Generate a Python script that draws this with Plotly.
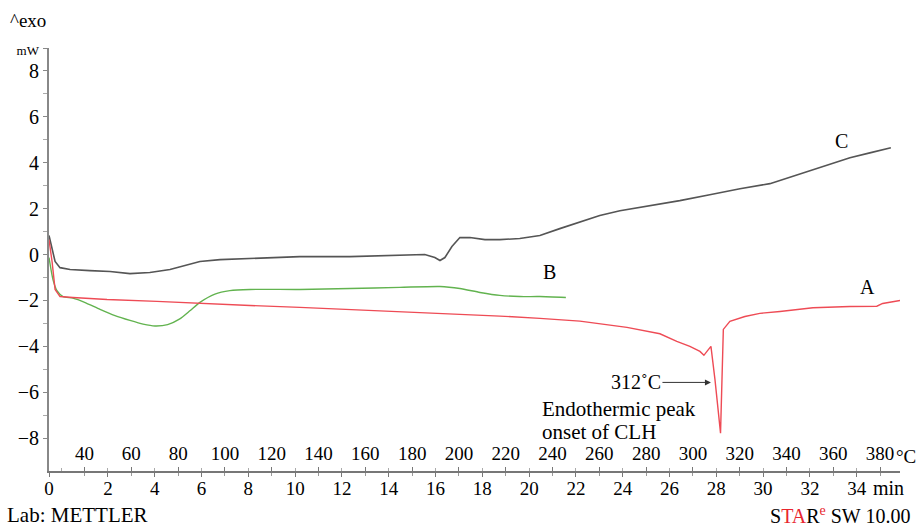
import plotly.graph_objects as go

# ---- data (time in min, heat flow in mW) ----
time_c = [-0.52, -0.39, -0.26, -0.05, 0.38, 1.23, 2.09, 2.94, 3.79, 4.65, 5.29, 5.93, 6.79, 8.07,
          10.2, 12.34, 14.47, 15.54, 15.97, 16.19, 16.40, 16.70, 17.04, 17.47, 18.11, 18.75, 19.60,
          20.46, 21.31, 22.17, 23.02, 23.88, 25.16, 26.44, 27.72, 29.01, 30.29, 31.57, 32.85,
          33.71, 34.56, 35.46]
flow_c = [0.83, 0.22, -0.30, -0.57, -0.65, -0.70, -0.74, -0.83, -0.78, -0.65, -0.48, -0.30, -0.22,
          -0.17, -0.09, -0.09, -0.04, 0.0, -0.13, -0.26, -0.13, 0.35, 0.74, 0.74, 0.65, 0.65, 0.70,
          0.83, 1.13, 1.43, 1.70, 1.91, 2.13, 2.35, 2.61, 2.87, 3.09, 3.52, 3.96, 4.22, 4.43, 4.65]

time_a = [-0.52, -0.39, -0.26, -0.05, 0.50, 1.96, 4.09, 5.93, 8.07, 10.2, 12.34, 14.47, 16.62,
          18.75, 20.46, 22.17, 24.18, 25.59, 26.31, 26.87, 27.30, 27.47, 27.60, 27.77, 27.94,
          28.18, 28.30, 28.58, 29.22, 29.86, 30.72, 32.13, 33.71, 34.86, 35.11, 35.50, 35.85]
flow_a = [0.65, -0.30, -1.52, -1.83, -1.87, -1.96, -2.04, -2.13, -2.22, -2.30, -2.39, -2.48, -2.57,
          -2.68, -2.78, -2.90, -3.17, -3.45, -3.78, -4.00, -4.22, -4.39, -4.22, -4.00, -5.43,
          -7.78, -3.26, -2.91, -2.70, -2.56, -2.48, -2.32, -2.26, -2.25, -2.13, -2.06, -2.00]

time_b = [-0.52, -0.35, -0.18, 0.08, 0.50, 1.00, 1.66, 2.30, 2.94, 3.50, 4.01, 4.55, 5.07, 5.50,
          5.93, 6.57, 7.21, 8.07, 10.2, 12.34, 14.47, 16.19, 17.04, 17.90, 18.75, 19.60, 20.46,
          21.57]
flow_b = [-0.13, -1.09, -1.57, -1.83, -1.90, -2.08, -2.39, -2.66, -2.87, -3.03, -3.11, -3.05,
          -2.80, -2.45, -2.08, -1.72, -1.57, -1.52, -1.52, -1.48, -1.43, -1.39, -1.48, -1.65,
          -1.78, -1.83, -1.83, -1.87]

y_ticks = [-8, -6, -4, -2, 0, 2, 4, 6, 8]
time_ticks = [2, 4, 6, 8, 10, 12, 14, 16, 18, 20, 22, 24, 26, 28, 30, 32, 34]
temp_ticks = [40, 60, 80, 100, 120, 140, 160, 180, 200, 220, 240, 260, 280, 300, 320, 340, 360, 380]

T_START = 30.0      # deg C at t = 0
RATE = 10.0         # deg C per min
X_MIN, X_MAX = -0.52, 35.85
Y_MIN, Y_MAX = -9.43, 9.0

FONT = "Liberation Serif"
RED = "#ee4b55"
GREEN = "#62b34f"
GREY = "#555555"

fig = go.Figure()
fig.add_trace(go.Scatter(x=time_c, y=flow_c, mode="lines", line=dict(color=GREY, width=1.6),
                         showlegend=False))
fig.add_trace(go.Scatter(x=time_b, y=flow_b, mode="lines",
                         line=dict(color=GREEN, width=1.4, shape="spline", smoothing=0.6),
                         showlegend=False))
fig.add_trace(go.Scatter(x=time_a, y=flow_a, mode="lines", line=dict(color=RED, width=1.4),
                         showlegend=False))
# temperature axis carrier
fig.add_trace(go.Scatter(x=temp_ticks, y=[None] * len(temp_ticks), xaxis="x2", mode="lines",
                         showlegend=False, hoverinfo="skip"))

fmt = lambda v: ("\u2212" + str(-v)) if v < 0 else str(v)
tf = dict(family=FONT, size=19, color="black")

fig.update_layout(
    width=916, height=528,
    margin=dict(l=49, r=16, t=48, b=57),
    paper_bgcolor="white", plot_bgcolor="white",
    font=dict(family=FONT, size=19, color="black"),
    xaxis=dict(
        range=[X_MIN, X_MAX], showgrid=False, zeroline=False,
        showline=True, linecolor="#777777", linewidth=1.5,
        tickmode="array", tickvals=[X_MIN] + time_ticks,
        ticktext=["0"] + [str(t) for t in time_ticks],
        ticks="outside", ticklen=4, tickcolor="#777777", tickwidth=1,
        ticklabelstandoff=-5,
        minor=dict(tickmode="linear", tick0=1, dtick=2, ticks="outside", ticklen=3,
                   tickcolor="#999999"),
        tickfont=tf,
    ),
    xaxis2=dict(
        overlaying="x", anchor="y", side="bottom",
        range=[T_START + RATE * X_MIN, T_START + RATE * X_MAX],
        showgrid=False, zeroline=False, showline=False,
        tickmode="array", tickvals=temp_ticks, ticktext=[str(t) for t in temp_ticks],
        ticks="inside", ticklen=4, tickcolor="#777777", ticklabelposition="inside",
        ticklabelstandoff=4,
        minor=dict(tickmode="linear", tick0=50, dtick=20, ticks="inside", ticklen=3,
                   tickcolor="#aaaaaa"),
        tickfont=tf,
    ),
    yaxis=dict(
        range=[Y_MIN, Y_MAX], showgrid=False, zeroline=False,
        showline=True, linecolor="#888888", linewidth=2,
        tickmode="array", tickvals=y_ticks + [9],
        ticktext=[fmt(v) for v in y_ticks] + ["<span style='font-size:13px'>mW</span>"],
        ticks="outside", ticklen=4, tickcolor="#888888",
        minor=dict(tickmode="linear", tick0=1, dtick=2, ticks="outside", ticklen=4,
                   tickcolor="#aaaaaa"),
        tickfont=dict(family=FONT, size=20, color="black"),
    ),
)

ann = [
    dict(text="^exo", xref="paper", yref="paper", x=-0.0482, y=1.066, xanchor="left",
         yanchor="middle", showarrow=False, font=dict(family=FONT, size=19)),
    dict(text="Lab: METTLER", xref="paper", yref="paper", x=-0.0517, y=-0.104, xanchor="left",
         yanchor="middle", showarrow=False, font=dict(family=FONT, size=21)),
    dict(text="S<span style='color:#e8262e'>TA</span>R<sup><span style='color:#e8262e'>e</span></sup> SW 10.00",
         xref="paper", yref="paper", x=1.014, y=-0.104, xanchor="right", yanchor="middle",
         showarrow=False, font=dict(family=FONT, size=20)),
    dict(text="\u00b0C", xref="paper", yref="paper", x=0.993, y=0.035, xanchor="left",
         yanchor="middle", showarrow=False, font=dict(family=FONT, size=19)),
    dict(text="min", xref="paper", yref="paper", x=0.966, y=-0.04, xanchor="left",
         yanchor="middle", showarrow=False, font=dict(family=FONT, size=20)),
    dict(text="C", x=33.37, y=4.96, showarrow=False, font=dict(family=FONT, size=20)),
    dict(text="B", x=20.89, y=-0.74, showarrow=False, font=dict(family=FONT, size=20)),
    dict(text="A", x=34.48, y=-1.43, showarrow=False, font=dict(family=FONT, size=20)),
    dict(text="312\u02daC", x=27.77, y=-5.57, ax=-75, ay=0, showarrow=True, arrowhead=2,
         arrowsize=1.2, arrowwidth=1, arrowcolor="#333333", font=dict(family=FONT, size=20)),
    dict(text="Endothermic peak", x=20.46, y=-6.72, xanchor="left", showarrow=False,
         font=dict(family=FONT, size=21)),
    dict(text="onset of CLH", x=20.46, y=-7.72, xanchor="left", showarrow=False,
         font=dict(family=FONT, size=21)),
]
fig.update_layout(annotations=ann)

fig.write_html("out.html")
